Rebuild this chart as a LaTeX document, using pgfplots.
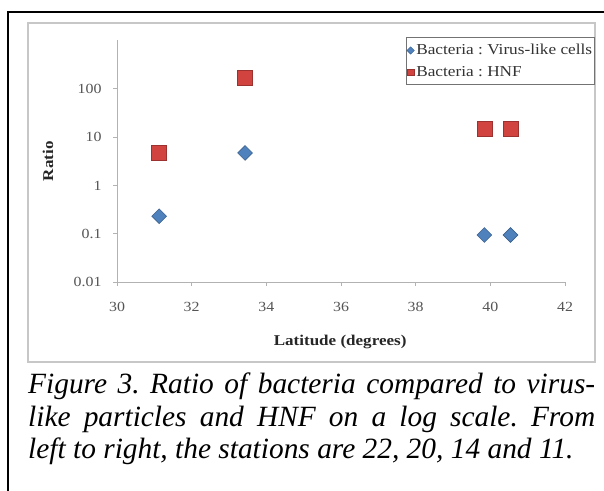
\documentclass[border=0pt]{standalone}
\usepackage{fontspec}
\setmainfont{Liberation Serif}
\newfontfamily\chartfont[FakeStretch=1.14]{Liberation Serif}
\usepackage{pgfplots}
\pgfplotsset{compat=1.18}
\definecolor{xblue}{HTML}{4F81BD}
\definecolor{xred}{HTML}{D0433F}
\definecolor{ticktext}{HTML}{555555}
\frenchspacing
\begin{document}
\begin{tikzpicture}[x=1bp,y=1bp]
\useasboundingbox (0,0) rectangle (604,-491);
\fill[white] (0,0) rectangle (604,-491);
\draw[black, line width=1.5bp] (8,-495) -- (8,-12) -- (610,-12);
\draw[black!22, line width=1.6bp] (28,-23) rectangle (595,-362);
\begin{axis}[
  at={(117bp,-282bp)}, anchor=south west,
  scale only axis, width=448bp, height=241.5bp,
  xmin=30, xmax=42, ymode=log, ymin=0.01, ymax=1000,
  xtick={30,32,34,36,38,40,42},
  xticklabels={30,32,34,36,38,40,42},
  ytick={0.01,0.1,1,10,100},
  yticklabels={0.01,0.1,1,10,100},
  yminorticks=false,
  axis lines=left,
  axis line style={-, black!30, line width=0.9bp},
  tick style={black!30, line width=0.9bp},
  major tick length=4bp,
  tick align=outside,
  ticklabel style={font=\chartfont\fontsize{14}{16}\selectfont, text=ticktext},
  xticklabel style={yshift=-13bp},
  yticklabel style={xshift=-8bp},
  xlabel={Latitude (degrees)},
  ylabel={Ratio},
  label style={font=\chartfont\fontsize{15}{17}\selectfont\bfseries, text=black!85},
  xlabel style={at={(axis description cs:0.498,-0.25)}, anchor=center},
  ylabel style={at={(axis description cs:-0.154,0.5)}, anchor=center},
  legend style={at={(axis description cs:0.645,1.0145)}, anchor=north west,
    draw=black!55, line width=1bp, font=\chartfont\fontsize{15.2}{18}\selectfont,
    text=black!80, inner xsep=0.5bp, inner ysep=5bp, row sep=6bp,
    /tikz/every odd column/.append style={column sep=0bp}},
  legend cell align=left,
]
\addplot[only marks, mark=square*, mark size=5.2bp,
  mark options={rotate=45, fill=xblue, draw=xblue!75!black, line width=0.6bp},
  legend image code/.code={\draw[mark=square*, mark size=2.6bp, mark options={rotate=45, fill=xblue, draw=xblue!75!black, line width=0.4bp}] plot coordinates {(0.12cm,0cm)};}]
  coordinates {(31.13,0.23) (33.43,4.7) (39.84,0.094) (40.54,0.094)};
\addlegendentry{Bacteria : Virus-like cells}
\addplot[only marks, mark=square*, mark size=7.5bp,
  mark options={fill=xred, draw=xred!75!black, line width=0.6bp},
  legend image code/.code={\draw[mark=square*, mark size=3.4bp, mark options={fill=xred, draw=xred!75!black, line width=0.4bp}] plot coordinates {(0.12cm,0cm)};}]
  coordinates {(31.13,4.7) (33.43,166) (39.84,14.7) (40.54,14.7)};
\addlegendentry{Bacteria : HNF}
\end{axis}
\node[anchor=north west, text width=567bp, inner sep=0pt, align=justify,
  font=\fontsize{29.5}{32.3}\selectfont\itshape] at (28,-373)
  {Figure 3. Ratio of bacteria compared to virus-\linebreak like particles and HNF on a log scale. From\linebreak left to right, the stations are 22, 20, 14 and 11.};
\end{tikzpicture}
\end{document}
